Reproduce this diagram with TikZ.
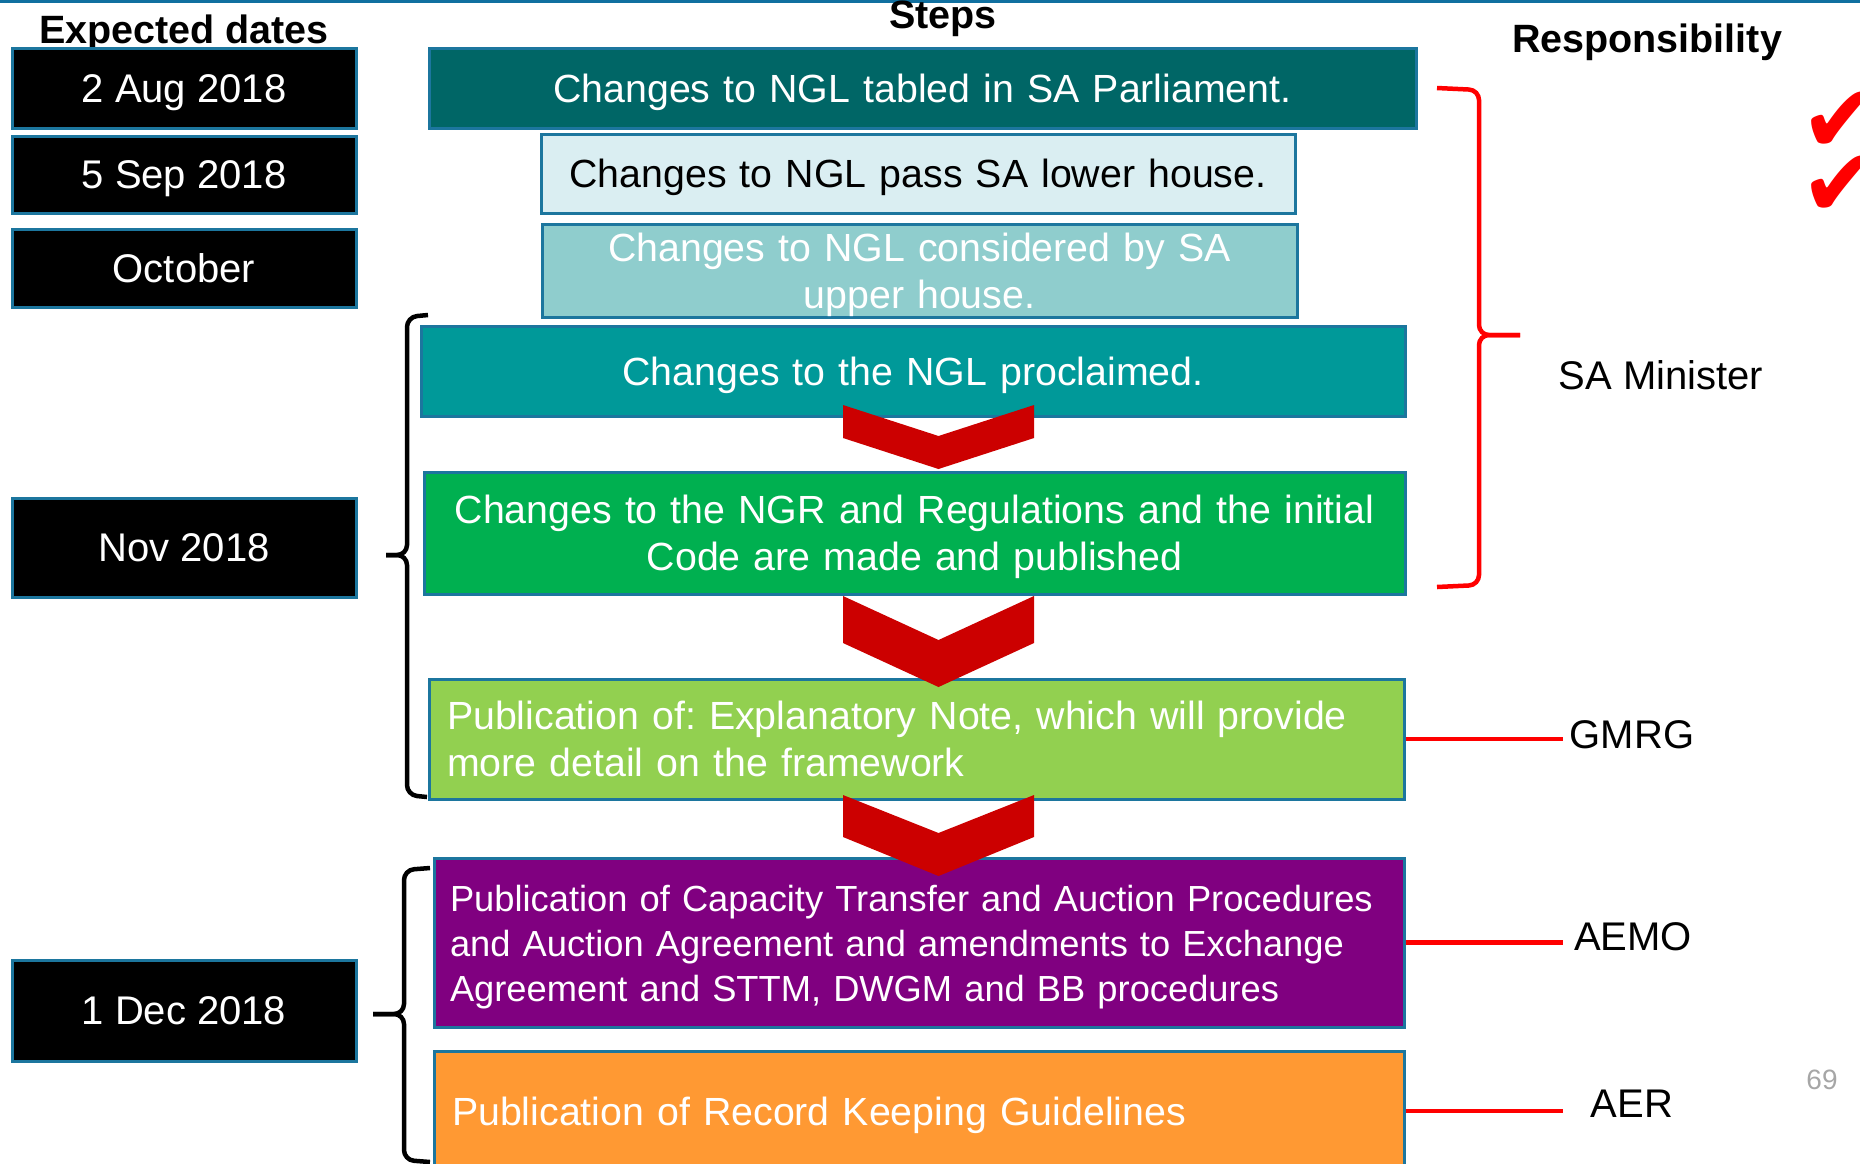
\documentclass[tikz,border=0pt]{standalone}
\usepackage{fontspec}
\setmainfont{Liberation Sans}
\newfontfamily\symfont{DejaVu Sans}
\frenchspacing
% line strut for box texts
\newcommand\ls{\rule[-9pt]{0pt}{46pt}}

\definecolor{topblue}{RGB}{16,112,160}
\definecolor{frameblue}{RGB}{28,118,158}
\definecolor{tealdark}{RGB}{0,102,102}
\definecolor{tealpale}{RGB}{218,238,242}
\definecolor{tealmid}{RGB}{143,205,205}
\definecolor{tealbright}{RGB}{0,153,153}
\definecolor{stepgreen}{RGB}{0,176,80}
\definecolor{stepolive}{RGB}{146,208,80}
\definecolor{steppurple}{RGB}{128,0,128}
\definecolor{steporange}{RGB}{255,153,51}
\definecolor{chevred}{RGB}{204,0,0}
\definecolor{pagegrey}{RGB}{166,166,166}

\tikzset{
	datebox/.style={draw=frameblue, line width=3pt, fill=black, text=white, minimum width=344pt, inner sep=0pt, font=\fontsize{40}{47}\selectfont, execute at begin node=\ls},
	stepbox/.style={draw=frameblue, line width=3pt, text=white, inner xsep=18pt, inner ysep=0pt, align=center, font=\fontsize{39.3}{47}\selectfont, execute at begin node=\ls, execute at end node=\ls},
	head/.style={font=\bfseries\fontsize{39.5}{47}\selectfont},
	resp/.style={font=\fontsize{40}{47}\selectfont},
	redline/.style={red, line width=4.5pt},
	blackbrace/.style={black, line width=4.5pt, rounded corners=10pt},
	tick/.style={text=red, font=\symfont\fontsize{96}{96}\selectfont, inner sep=0pt, anchor=west},
}

\begin{document}
\begin{tikzpicture}[x=1pt,y=-1pt]
		\useasboundingbox (0,0) rectangle (1860,1163);
		\draw[topblue, line width=3pt] (0,1.5)--(1860,1.5);

		% headings
		\node[head] (hdates) at (184,33) {Expected dates};
		\node[head] (hsteps) at (943,19) {Steps};
		\node[head] (hresp) at (1647,42) {Responsibility};

		% dates
		\node[datebox, minimum height=80pt] (d1) at (184,88) {2 Aug 2018};
		\node[datebox, minimum height=77pt] (d2) at (184,174.5) {5 Sep 2018};
		\node[datebox, minimum height=78pt] (d3) at (184,268) {October};
		\node[datebox, minimum height=99pt] (d4) at (184,547.5) {Nov 2018};
		\node[datebox, minimum height=101pt] (d5) at (184,1010.5) {1 Dec 2018};

		% steps
		\node[stepbox, fill=tealdark, minimum width=987pt, minimum height=80pt, text width=951pt] (s1) at (922.5,88) {Changes to NGL tabled in SA Parliament.};
		\node[stepbox, fill=tealpale, text=black, minimum width=754pt, minimum height=79pt, text width=718pt] (s2) at (918,173.5) {Changes to NGL pass SA lower house.};
		\node[stepbox, fill=tealmid, minimum width=755pt, minimum height=92pt, text width=719pt] (s3) at (919.5,271) {Changes to NGL considered by SA\\upper house.};
		\node[stepbox, fill=tealbright, minimum width=984pt, minimum height=90pt, text width=948pt] (s4) at (913,371) {Changes to the NGL proclaimed.};
		\node[stepbox, fill=stepgreen, minimum width=981pt, minimum height=122pt, text width=945pt] (s5) at (914.5,533) {Changes to the NGR and Regulations and the initial\\Code are made and published};
		\node[stepbox, fill=stepolive, align=left, minimum width=975pt, minimum height=120pt, text width=939pt] (s6) at (916.5,739) {Publication of: Explanatory Note, which will provide\\more detail on the framework};
		\node[stepbox, fill=steppurple, align=left, inner xsep=16pt, minimum width=970pt, minimum height=169pt, text width=938pt, font=\fontsize{36.3}{44.5}\selectfont] (s7) at (919,942.5) {Publication of Capacity Transfer and Auction Procedures\\and Auction Agreement and amendments to Exchange\\Agreement and STTM, DWGM and BB procedures};
		\node[stepbox, fill=steporange, align=left, minimum width=970pt, minimum height=120pt, text width=934pt] (s8) at (919,1111) {Publication of Record Keeping Guidelines};

		% chevrons
		\foreach \t/\n/\b/\p in {405/436/438/469, 596/640/643/687, 795/833/837/876}
			\fill[chevred] (843,\t)--(938.5,\n)--(1034,\t)--(1034,\b)--(938.5,\p)--(843,\b)--cycle;

		% braces
		\draw[blackbrace] (428,315)--(407,317)--(407,555)--(386,555);
		\draw[blackbrace] (386,555)--(407,555)--(407,795)--(427,797);
		\draw[blackbrace] (430,868)--(404,870)--(404,1014)--(373,1014);
		\draw[blackbrace] (373,1014)--(404,1014)--(404,1160)--(430,1162);
		\draw[redline, rounded corners=10pt] (1437,88)--(1479,90)--(1479,335)--(1520,335);
		\draw[redline, rounded corners=10pt] (1520,335)--(1479,335)--(1479,585)--(1437,587);

		% responsibility
		\node[resp] (mini) at (1661,375) {SA Minister};
		\node[resp] (gmrg) at (1632,735) {GMRG};
		\node[resp] (aemo) at (1633,937) {AEMO};
		\node[resp] (aer) at (1632,1104) {AER};
		\coordinate (rend) at (1563,0);
		\draw[redline] (s6.east)--(s6.east -| rend);
		\draw[redline] (s7.east)--(s7.east -| rend);
		\draw[redline] (s8.east)--(s8.east -| rend);

		\node[tick] (tick1) at (1800,122) {✔};
		\node[tick] (tick2) at (1800,186) {✔};
		\node[text=pagegrey, font=\fontsize{28}{30}\selectfont] (pgno) at (1822,1080) {69};
	    \end{tikzpicture}
\end{document}
